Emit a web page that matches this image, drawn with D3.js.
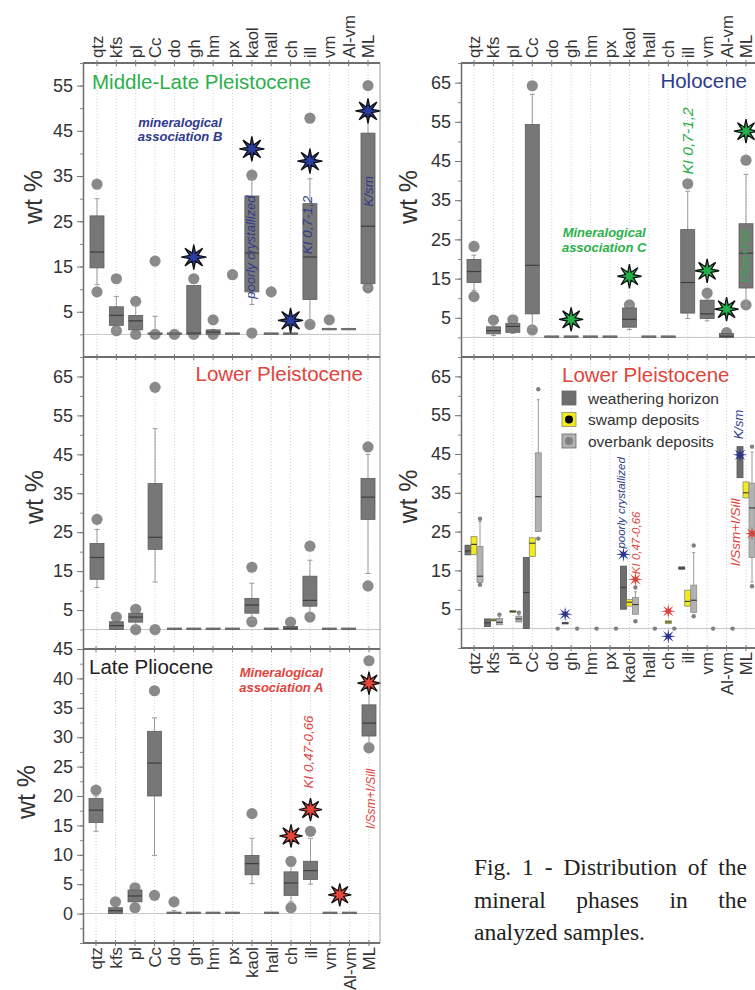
<!DOCTYPE html>
<html>
<head>
<meta charset="utf-8">
<script src="https://cdn.jsdelivr.net/npm/d3@7"></script>
<style>
  body { margin: 0; background: #fff; }
  svg { display: block; font-family: "Liberation Sans", Arial, sans-serif; }
</style>
</head>
<body>
<svg width="755" height="990"></svg>
<script>
var minerals = ["qtz", "kfs", "pl", "Cc", "do", "gh", "hm", "px", "kaol", "hall", "ch", "ill", "vm", "Al-vm", "ML"];

// boxes: [low whisker, q1, median, q3, high whisker], one per mineral; null = nothing
// Middle-Late Pleistocene
var mlpBoxes = [
  [11, 14.7, 18.2, 26.2, 30], [1, 2, 4.2, 6.1, 8.4], [1, 1, 3, 4.2, 6.4], [0, 0, 0, 0, 4],
  [0, 0, 0, 0, 0], [0, 0, 0.3, 10.8, 10.8], [0, 0, 0.5, 1, 1], [0, 0, 0, 0, 0],
  [6.6, 9.4, 18, 30.6, 34.5], [0, 0, 0, 0, 0], [0, 0, 0, 0, 0], [3, 7.7, 17.1, 28.9, 34.4],
  [1, 1, 1, 1, 1], [1, 1, 1, 1, 1], [10.5, 11.2, 23.9, 44.5, 48]
];
var mlpOutliers = [[33.2, 9.4], [12.3, 0.8], [7.3, 0], [16.2, 0], [0], [12.3, 0], [3.2, 0], [13.2],
  [35.2, 0.3], [9.4], [], [47.8, 2.2], [3.2], [], [55, 10.3]];
var mlpStars = [["gh", 17.1], ["kaol", 41], ["ch", 3.1], ["ill", 38.3], ["ML", 49.4]];

// Holocene
var holBoxes = [
  [12, 14, 16.8, 19.9, 21], [0.5, 0.9, 1.7, 2.7, 3.2], [1, 1.3, 2.8, 3.6, 4], [2.5, 6, 18.4, 54.3, 62],
  [0, 0, 0, 0, 0], [0, 0, 0, 0, 0], [0, 0, 0, 0, 0], [0, 0, 0, 0, 0],
  [2, 2.6, 4.6, 7.5, 8], [0, 0, 0, 0, 0], [0, 0, 0, 0, 0], [4.8, 6.2, 14, 27.5, 37.3],
  [4.2, 4.8, 6, 9.5, 10], [0, 0, 0.3, 1, 1], [8, 12.6, 21.5, 29, 41.6]
];
var holOutliers = [[23.2, 10.4], [4.4], [4.5], [64.2, 1.9], [], [], [], [], [8.3], [], [], [39.2], [11.3], [1.2], [45.2, 8.3]];
var holStars = [["gh", 4.6], ["kaol", 15.6], ["vm", 17], ["Al-vm", 7.2], ["ML", 52.6]];

// Lower Pleistocene (all samples)
var lpBoxes = [
  [10.8, 12.9, 18.5, 22.1, 25.7], [0, 0, 1, 2, 2], [1, 1.9, 3.2, 4.2, 4.5], [12.2, 20.6, 23.7, 37.5, 51.6],
  [0, 0, 0, 0, 0], [0, 0, 0, 0, 0], [0, 0, 0, 0, 0], [0, 0, 0, 0, 0],
  [2.5, 4.2, 6.3, 8, 11.9], [0, 0, 0, 0, 0], [0, 0, 0.3, 0.8, 0.8], [3.5, 6, 7.5, 13.7, 17.8],
  [0, 0, 0, 0, 0], [0, 0, 0, 0, 0], [14.4, 28.3, 34, 38.8, 45]
];
var lpOutliers = [[28.3], [3.2], [5.2, 0], [62.2, 0], [], [], [], [], [16, 2], [], [1.9], [21.4, 3.2], [], [], [46.9, 11.2]];

// Late Pliocene
var plioBoxes = [
  [14, 15.5, 17.6, 19.6, 20], [0, 0, 0.5, 1, 1], [2, 2, 3, 4, 4], [9.9, 20, 25.6, 31, 33.3],
  [0, 0, 0, 0, 0.5], [0, 0, 0, 0, 0], [0, 0, 0, 0, 0], [0, 0, 0, 0, 0],
  [5.1, 6.6, 8.5, 9.9, 12.8], [0, 0, 0, 0, 0], [2, 3.1, 5.2, 7.1, 8], [5, 5.8, 7.3, 8.9, 12.8],
  [0, 0, 0, 0, 0], [0, 0, 0, 0, 0], [29, 30.2, 32.4, 35.5, 38]
];
var plioOutliers = [[21], [2], [4.4, 3.8, 1], [37.9, 3.1], [2], [], [], [], [17], [], [8.9, 1], [14], [], [], [43, 28.2]];
var plioStars = [["ch", 13.2], ["ill", 17.7], ["vm|Al-vm", 3.2], ["ML", 39.2]];

// Lower Pleistocene by deposit type
var lpSeries = ["weathering horizon", "swamp deposits", "overbank deposits"];
var lpWeathering = [
  [19, 19, 20, 21.5, 21.5], [0.5, 0.5, 1.5, 2.5, 2.5], null, [0, 0, 9.3, 18.3, 18.3],
  null, [1.2, 1.2, 1.4, 1.6, 1.6], null, null,
  [5, 5, 10.6, 16.1, 16.1], null, null, [15.3, 15.3, 15.6, 15.9, 15.9],
  null, null, [38.9, 38.9, 44, 46.9, 46.9]
];
var lpSwamp = [
  [19.1, 19.1, 21.7, 23.7, 23.7], [2, 2, 2.2, 2.5, 2.5], [4.2, 4.2, 4.4, 4.7, 4.7], [18.6, 18.6, 22, 23.4, 23.4],
  null, null, null, null,
  [5.8, 5.8, 6.8, 7.5, 7.5], null, [1.3, 1.3, 1.7, 2, 2], [5.8, 5.8, 7, 9.9, 9.9],
  null, null, [33.7, 33.7, 35, 37.8, 37.8]
];
var lpOverbank = [
  [11.9, 11.9, 13.5, 21.2, 27.6], [1, 1, 1.6, 2.6, 3.3], [1.7, 1.7, 2.5, 3.2, 3.8], [25, 25, 34, 45.3, 59],
  null, null, null, null,
  [3.7, 3.7, 6.2, 8, 9.5], null, null, [4.2, 4.2, 7.3, 11.2, 19.6],
  null, null, [12, 18.3, 31.1, 37.5, 45.5]
];
var lpOverbankOutliers = [[28.3, 11.3], [3.6], [4.1], [61.7, 23.2], [0], [0], [0], [0], [10.6, 1.9], [0], [0], [21.4, 3.2], [0], [0], [46.9, 10.9]];
// [mineral, value, series index]
var lpBlueStars = [["gh", 3.7, 0], ["kaol", 19.1, 0], ["ch", -2, 1], ["ML", 44.8, 0]];
var lpRedStars = [["kaol", 12.7, 2], ["ch", 4.5, 1], ["ML", 24.5, 2]];

var captionLines = ["Fig. 1 - Distribution of the", "mineral phases in the", "analyzed samples."];

var BLUE = "#2e3a8c", GREEN = "#2bb04a", RED = "#e0443c";

var svg = d3.select("svg");

function starPath(R, r) {
  var pts = [];
  for (var i = 0; i < 16; i++) {
    var a = -Math.PI / 2 + i * Math.PI / 8;
    var rad = i % 2 === 0 ? R : r;
    pts.push([rad * Math.cos(a), rad * Math.sin(a)]);
  }
  return d3.line()(pts) + "Z";
}

function colIndex(name) {
  if (name.indexOf("|") > 0) {
    var p = name.split("|");
    return (minerals.indexOf(p[0]) + minerals.indexOf(p[1])) / 2;
  }
  return minerals.indexOf(name);
}

function drawBoxes(g, x, y, boxes, outs, o) {
  outs.forEach(function(list, i) {
    g.selectAll(null).data(list).enter().append("circle")
      .attr("cx", x(i) + o.dx)
      .attr("cy", function(d) { return y(d); })
      .attr("r", o.r)
      .attr("fill", o.dot);
  });
  var items = boxes.map(function(b, i) { return {b: b, i: i}; }).filter(function(d) { return d.b; });
  var bx = g.selectAll(null).data(items).enter().append("g");
  bx.append("line")
    .attr("x1", function(d) { return x(d.i) + o.dx; })
    .attr("x2", function(d) { return x(d.i) + o.dx; })
    .attr("y1", function(d) { return y(d.b[0]); })
    .attr("y2", function(d) { return y(d.b[4]); })
    .attr("stroke", "#9a9a9a").attr("stroke-width", 1);
  [0, 4].forEach(function(k) {
    bx.filter(function(d) { return k === 0 ? d.b[0] < d.b[1] : d.b[4] > d.b[3]; })
      .append("line")
      .attr("x1", function(d) { return x(d.i) + o.dx - o.cap; })
      .attr("x2", function(d) { return x(d.i) + o.dx + o.cap; })
      .attr("y1", function(d) { return y(d.b[k]); })
      .attr("y2", function(d) { return y(d.b[k]); })
      .attr("stroke", "#9a9a9a");
  });
  bx.append("rect")
    .attr("x", function(d) { return x(d.i) + o.dx - o.w / 2; })
    .attr("y", function(d) { return Math.min(y(d.b[3]), y(d.b[1]) - 1.5); })
    .attr("width", o.w)
    .attr("height", function(d) { return Math.max(y(d.b[1]) - y(d.b[3]), 1.5); })
    .attr("fill", o.fill).attr("stroke", o.stroke).attr("stroke-width", 0.8);
  bx.filter(function(d) { return d.b[1] < d.b[3]; }).append("line")
    .attr("x1", function(d) { return x(d.i) + o.dx - o.w / 2; })
    .attr("x2", function(d) { return x(d.i) + o.dx + o.w / 2; })
    .attr("y1", function(d) { return y(d.b[2]); })
    .attr("y2", function(d) { return y(d.b[2]); })
    .attr("stroke", "#3e3e3e").attr("stroke-width", 1.2);
}

function drawStars(g, x, y, stars, o) {
  g.selectAll(null).data(stars).enter().append("path")
    .attr("d", starPath(o.R, o.r))
    .attr("transform", function(d) {
      var off = d.length > 2 ? o.offsets[d[2]] : 0;
      return "translate(" + (x(colIndex(d[0])) + off) + "," + y(d[1]) + ")";
    })
    .attr("fill", o.fill).attr("stroke", o.stroke || "none").attr("stroke-width", o.stroke ? 1.3 : 0)
    .attr("stroke-linejoin", "miter");
}

function annotate(g, x, y, list) {
  g.selectAll(null).data(list).enter().append("text")
    .attr("transform", function(a) {
      return "translate(" + x(a.col) + "," + y(a.v) + ")" + (a.rot ? " rotate(-90)" : "");
    })
    .attr("text-anchor", "middle")
    .attr("dy", function(a) { return a.rot ? "0.35em" : null; })
    .attr("font-size", function(a) { return a.size; })
    .attr("font-style", "italic")
    .attr("font-weight", function(a) { return a.bold ? "bold" : "normal"; })
    .attr("fill", function(a) { return a.color; })
    .text(function(a) { return a.t; });
}

function hFrame(g, x, yy, p) {
  g.append("line").attr("x1", p.left).attr("x2", p.right).attr("y1", yy).attr("y2", yy)
    .attr("stroke", "#6e6e6e").attr("stroke-width", 2);
  g.selectAll(null).data(minerals).enter().append("line")
    .attr("x1", function(d, i) { return x(i); }).attr("x2", function(d, i) { return x(i); })
    .attr("y1", yy - 3).attr("y2", yy + 3)
    .attr("stroke", "#777").attr("stroke-width", 1);
}

function panel(p) {
  var g = svg.append("g");
  var x = d3.scaleLinear().domain([0, minerals.length - 1]).range(p.cols);
  var y = d3.scaleLinear().domain(p.domain).range([p.bottom, p.top]);

  g.selectAll(null).data(minerals).enter().append("line")
    .attr("x1", function(d, i) { return x(i); }).attr("x2", function(d, i) { return x(i); })
    .attr("y1", p.top).attr("y2", p.bottom)
    .attr("stroke", "#d2d2d2").attr("stroke-dasharray", "1,2");
  g.append("line").attr("x1", p.left).attr("x2", p.right).attr("y1", y(0)).attr("y2", y(0))
    .attr("stroke", "#c4c4c4");

  p.draw(g, x, y);

  // left axis
  g.append("g").attr("transform", "translate(" + p.left + ",0)")
    .call(d3.axisLeft(y).tickValues(d3.range(p.domain[0], p.domain[1] + 0.01, p.minor))
      .tickSize(3).tickSizeOuter(0).tickFormat(""))
    .call(function(a) { a.select(".domain").remove(); a.selectAll("line").attr("stroke", "#888"); });
  var ax = g.append("g").attr("transform", "translate(" + p.left + ",0)")
    .call(d3.axisLeft(y).tickValues(p.labels).tickSize(6).tickSizeOuter(0).tickPadding(4).tickFormat(d3.format("d")));
  ax.select(".domain").attr("stroke", "#6e6e6e").attr("stroke-width", 1.5);
  ax.selectAll("line").attr("stroke", "#777");
  ax.attr("font-family", null);
  ax.selectAll("text").attr("font-size", 18).attr("fill", "#333");

  if (p.rightBorder) {
    g.append("line").attr("x1", p.right).attr("x2", p.right).attr("y1", p.top).attr("y2", p.bottom)
      .attr("stroke", "#9a9a9a");
  }
  hFrame(g, x, p.top, p);
  if (p.frameBottom) hFrame(g, x, p.bottom, p);

  if (p.labelY) {
    g.selectAll(null).data(minerals).enter().append("text")
      .attr("transform", function(d, i) { return "translate(" + x(i) + "," + p.labelY + ") rotate(-90)"; })
      .attr("dy", "0.36em")
      .attr("text-anchor", p.labelAnchor)
      .attr("font-size", 16.8).attr("fill", "#333")
      .text(function(d) { return d; });
  }

  g.append("text")
    .attr("transform", "translate(" + p.wtX + "," + ((p.top + p.bottom) / 2 + p.wtDy) + ") rotate(-90)")
    .attr("text-anchor", "middle").attr("dy", "0.35em")
    .attr("font-size", 25).attr("fill", "#333").text("wt %");

  g.append("text")
    .attr("x", p.titleX).attr("y", p.top + p.titleDy)
    .attr("text-anchor", p.titleAnchor)
    .attr("font-size", 20.5).attr("fill", p.titleColor).text(p.title);
  return g;
}

var bigBox = {dx: 0, w: 14, cap: 2.5, r: 5.6, fill: "#777", stroke: "#5c5c5c", dot: "#8a8a8a"};
var bigStar = {R: 12.5, r: 4.3, stroke: "#111"};

// top-left
panel({
  left: 83, right: 380, cols: [97, 368], top: 63, bottom: 357, domain: [-5, 60],
  labels: [5, 15, 25, 35, 45, 55], minor: 5, rightBorder: true,
  labelY: 58, labelAnchor: "start", wtX: 33, wtDy: -13,
  title: "Middle-Late Pleistocene", titleX: 92, titleDy: 26, titleAnchor: "start", titleColor: GREEN,
  draw: function(g, x, y) {
    drawBoxes(g, x, y, mlpBoxes, mlpOutliers, bigBox);
    drawStars(g, x, y, mlpStars, Object.assign({fill: "#2b3d9e"}, bigStar));
    annotate(g, x, y, [
      {t: "mineralogical", col: 4.29, v: 45.8, size: 13, bold: true, color: BLUE},
      {t: "association B", col: 4.29, v: 42.7, size: 13, bold: true, color: BLUE},
      {t: "poorly crystallized", col: 7.95, v: 19.3, size: 13, rot: true, color: BLUE},
      {t: "KI 0,7-1,2", col: 10.88, v: 24.2, size: 13.5, rot: true, color: BLUE},
      {t: "K/sm", col: 14, v: 31.6, size: 13.5, rot: true, color: BLUE}
    ]);
  }
});

// middle-left
panel({
  left: 83, right: 380, cols: [97, 368], top: 357, bottom: 649, domain: [-5, 70],
  labels: [5, 15, 25, 35, 45, 55, 65], minor: 5, rightBorder: true,
  wtX: 34, wtDy: -6,
  title: "Lower Pleistocene", titleX: 363, titleDy: 24, titleAnchor: "end", titleColor: RED,
  draw: function(g, x, y) {
    drawBoxes(g, x, y, lpBoxes, lpOutliers, bigBox);
  }
});

// bottom-left
panel({
  left: 83, right: 380, cols: [96, 369], top: 649, bottom: 943, domain: [-5, 45],
  labels: [0, 5, 10, 15, 20, 25, 30, 35, 40, 45], minor: 2.5, rightBorder: true, frameBottom: true,
  labelY: 947, labelAnchor: "end", wtX: 26, wtDy: -4,
  title: "Late Pliocene", titleX: 89, titleDy: 25, titleAnchor: "start", titleColor: "#222",
  draw: function(g, x, y) {
    drawBoxes(g, x, y, plioBoxes, plioOutliers, bigBox);
    drawStars(g, x, y, plioStars, Object.assign({fill: "#e8453a"}, bigStar, {R: 11.5}));
    annotate(g, x, y, [
      {t: "Mineralogical", col: 9.5, v: 40.3, size: 13, bold: true, color: RED},
      {t: "association A", col: 9.5, v: 37.7, size: 13, bold: true, color: RED},
      {t: "KI 0,47-0,66", col: 10.9, v: 27.5, size: 13.4, rot: true, color: RED},
      {t: "I/Ssm+I/Sill", col: 14.1, v: 19.5, size: 12, rot: true, color: RED}
    ]);
  }
});

// top-right
panel({
  left: 461, right: 760, cols: [474, 746], top: 63, bottom: 357, domain: [-5, 70],
  labels: [5, 15, 25, 35, 45, 55, 65], minor: 5,
  labelY: 58, labelAnchor: "start", wtX: 408, wtDy: -13,
  title: "Holocene", titleX: 747, titleDy: 25, titleAnchor: "end", titleColor: BLUE,
  draw: function(g, x, y) {
    drawBoxes(g, x, y, holBoxes, holOutliers, bigBox);
    drawStars(g, x, y, holStars, Object.assign({fill: "#22b04a"}, bigStar, {R: 12}));
    annotate(g, x, y, [
      {t: "Mineralogical", col: 6.7, v: 25.6, size: 13, bold: true, color: GREEN},
      {t: "association C", col: 6.7, v: 21.8, size: 13, bold: true, color: GREEN},
      {t: "KI 0,7-1,2", col: 11, v: 50.1, size: 15.5, rot: true, color: GREEN},
      {t: "I/Ssm+I/Sill", col: 13.95, v: 20.8, size: 10.5, rot: true, color: GREEN}
    ]);
  }
});

// middle-right
var mr = panel({
  left: 461, right: 760, cols: [474, 746], top: 357, bottom: 648, domain: [-5, 70],
  labels: [5, 15, 25, 35, 45, 55, 65], minor: 5, frameBottom: true,
  labelY: 652, labelAnchor: "end", wtX: 408, wtDy: -6,
  title: "Lower Pleistocene", titleX: 562, titleDy: 25, titleAnchor: "start", titleColor: RED,
  draw: function(g, x, y) {
    var offs = [-6, 0, 6];
    drawBoxes(g, x, y, lpWeathering, [], {dx: offs[0], w: 6, cap: 1.5, r: 2.2, fill: "#6e6e6e", stroke: "#555", dot: "#777"});
    drawBoxes(g, x, y, lpSwamp, [], {dx: offs[1], w: 6, cap: 1.5, r: 2.2, fill: "#f2ec1f", stroke: "#8a8a6a", dot: "#777"});
    drawBoxes(g, x, y, lpOverbank, lpOverbankOutliers, {dx: offs[2], w: 6, cap: 1.5, r: 2.2, fill: "#b2b2b2", stroke: "#8c8c8c", dot: "#808080"});
    drawStars(g, x, y, lpBlueStars, {R: 7.5, r: 2.3, fill: "#2b3590", offsets: offs});
    drawStars(g, x, y, lpRedStars, {R: 7.5, r: 2.3, fill: "#d8433b", offsets: offs});
    annotate(g, x, y, [
      {t: "poorly crystallized", col: 7.56, v: 32.4, size: 11.5, rot: true, color: BLUE},
      {t: "KI 0,47-0,66", col: 8.33, v: 22.1, size: 11.5, rot: true, color: RED},
      {t: "K/sm", col: 13.6, v: 52.6, size: 13, rot: true, color: BLUE},
      {t: "I/Ssm+I/Sill", col: 13.44, v: 24.8, size: 13.5, rot: true, color: RED}
    ]);
  }
});

// legend
var legFill = [["#6e6e6e", null], ["#f2ec1f", "#808080"], ["#b2b2b2", "#8a8a8a"]];
var leg = mr.append("g").attr("transform", "translate(562,391)");
var li = leg.selectAll(null).data(lpSeries).enter().append("g")
  .attr("transform", function(d, i) { return "translate(0," + (i * 21.5) + ")"; });
li.append("rect").attr("width", 14).attr("height", 14)
  .attr("fill", function(d, i) { return legFill[i][0]; })
  .attr("stroke", function(d, i) { return i === 1 ? "#8a8a6a" : "#666"; }).attr("stroke-width", 0.8);
li.filter(function(d, i) { return legFill[i][1]; }).append("circle")
  .attr("cx", 7).attr("cy", 7).attr("r", 4)
  .attr("fill", function(d, i) { return legFill[i][1]; });
li.append("text").attr("x", 26).attr("y", 7).attr("dy", "0.36em")
  .attr("font-size", 15.5).attr("fill", "#333").text(function(d) { return d; });

// caption, justified
var cap = svg.append("g").style("font-family", "'Liberation Serif', 'Times New Roman', serif");
var capLeft = 474, capRight = 747;
captionLines.forEach(function(line, li2) {
  var words = line.split(" ");
  var base = 875 + li2 * 32.5;
  var nodes = words.map(function(w) {
    return cap.append("text").attr("y", base)
      .attr("font-size", 23.5).attr("fill", "#222").text(w);
  });
  var widths = nodes.map(function(n) { return n.node().getComputedTextLength(); });
  var total = d3.sum(widths);
  var gap = li2 < captionLines.length - 1 ? (capRight - capLeft - total) / (words.length - 1) : 23.5 * 0.25;
  var xx = capLeft;
  nodes.forEach(function(n, k) { n.attr("x", xx); xx += widths[k] + gap; });
});
</script>
</body>
</html>
